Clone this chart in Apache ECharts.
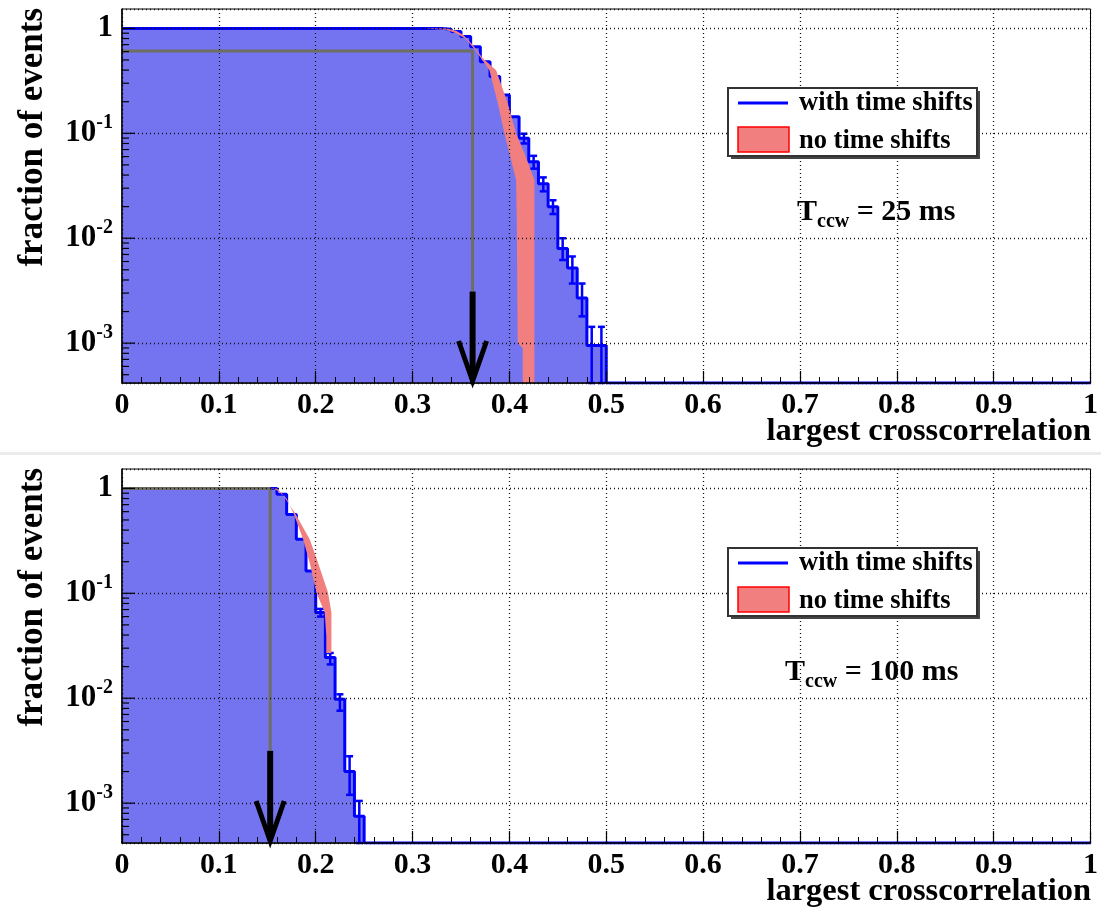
<!DOCTYPE html>
<html>
<head>
<meta charset="utf-8">
<script src="https://cdn.jsdelivr.net/npm/echarts@6/dist/echarts.min.js"></script>
<style>
  html, body { margin: 0; padding: 0; background: #ffffff; }
  #chart { width: 1101px; height: 909px; }
</style>
</head>
<body>
<div id="chart"></div>
<script>
// ---------- shared axis settings ----------
const xMin = 0, xMax = 1, xStep = 0.1;
const yMin = 4.17e-4, yMax = 1.53;            // log axis range (fraction of events)
const decadeTicks = [0.001, 0.01, 0.1, 1];

// ---------- panel 1: T_ccw = 25 ms ----------
// cumulative histogram "with time shifts": bin left edge -> fraction (0 = empty)
const topBlueEdges  = [0, 0.33, 0.34, 0.35, 0.36, 0.37, 0.38, 0.39, 0.40, 0.41, 0.42, 0.43, 0.44, 0.45, 0.46, 0.47, 0.48, 0.49, 0.50, 1.0];
const topBlueValues = [1, 0.98, 0.935, 0.835, 0.67, 0.48, 0.347, 0.232, 0.144, 0.0895, 0.0537, 0.033, 0.0200, 0.0080, 0.0052, 0.0027, 0.00095, 0.00095, 0, 0];
// statistical error bars of the tail bins (bin centre, lower, upper)
const topErrX  = [0.415, 0.425, 0.435, 0.445, 0.455, 0.465, 0.475, 0.485, 0.495];
const topErrLo = [0.080, 0.046, 0.028, 0.017, 0.0062, 0.0037, 0.0018, 0, 0];
const topErrHi = [0.099, 0.061, 0.038, 0.023, 0.0100, 0.0067, 0.0037, 0.00143, 0.00143];
// "no time shifts": error band (upper and lower edge)
const topRedUpX = [0.315, 0.335, 0.345, 0.352, 0.362, 0.3725, 0.3863, 0.3983, 0.4069, 0.4155, 0.4258, 0.4258];
const topRedUpY = [1.0, 0.995, 0.95, 0.87, 0.70, 0.52, 0.40, 0.193, 0.100, 0.0645, 0.0358, 0];
const topRedLoX = [0.315, 0.335, 0.345, 0.355, 0.365, 0.3794, 0.388, 0.3948, 0.400, 0.4069, 0.4076, 0.4086, 0.4137, 0.4137];
const topRedLoY = [0.99, 0.97, 0.90, 0.79, 0.62, 0.40, 0.193, 0.100, 0.0645, 0.0358, 0.015, 0.001, 0.0009, 0];
// cut marker: guide level, cut value, arrow start
const topCut = { level: 0.61, x: 0.362, arrowTop: 0.0031 };
const topLabel = '25 ms';

// ---------- panel 2: T_ccw = 100 ms ----------
const botBlueEdges  = [0, 0.16, 0.17, 0.18, 0.19, 0.20, 0.21, 0.22, 0.23, 0.24, 0.25, 1.0];
const botBlueValues = [1, 0.877, 0.565, 0.327, 0.163, 0.0655, 0.0244, 0.0098, 0.0020, 0.00075, 0, 0];
const botErrX  = [0.205, 0.215, 0.225, 0.235, 0.245];
const botErrLo = [0.060, 0.021, 0.0076, 0.0012, 0];
const botErrHi = [0.071, 0.027, 0.0109, 0.0028, 0.00105];
const botRedUpX = [0.155, 0.160, 0.1646, 0.1784, 0.1938, 0.2024, 0.2127, 0.2162, 0.2162];
const botRedUpY = [1.0, 0.99, 0.91, 0.587, 0.327, 0.196, 0.1016, 0.0655, 0.027];
const botRedLoX = [0.155, 0.160, 0.170, 0.178, 0.187, 0.1938, 0.2007, 0.2093, 0.211, 0.211];
const botRedLoY = [0.99, 0.96, 0.80, 0.55, 0.327, 0.196, 0.1016, 0.0655, 0.039, 0.027];
const botCut = { level: 1.0, x: 0.153, arrowTop: 0.00315 };
const botLabel = '100 ms';

// ---------- style ----------
const SERIF = '"Liberation Serif", "DejaVu Serif", serif';
const BLUE = '#0000ff';
const BLUE_FILL = '#7474f0';
const RED_FILL = '#f27f7f';
const GUIDE = '#6e6e62';

// empty bins sit on the lower edge of the log axis
const floorV = v => (v > yMin ? v : yMin);

const grids = [
  { left: 122, right: 8, top: 9, height: 374 },
  { left: 122, right: 8, top: 469, height: 374 }
];

function xAxisFor(i) {
  return {
    gridIndex: i, type: 'value', min: xMin, max: xMax, interval: xStep, z: 5,
    axisLine: { show: true, onZero: false, lineStyle: { color: '#000', width: 1.5 } },
    axisTick: { show: true, inside: true, length: 12, lineStyle: { color: '#000', width: 1.2 } },
    minorTick: { show: true, splitNumber: 5, length: 6, lineStyle: { color: '#000', width: 1 } },
    splitLine: { show: true, lineStyle: { color: '#111', type: [1, 3], width: 1.3 } },
    axisLabel: {
      margin: 7, fontFamily: SERIF, fontWeight: 'bold', fontSize: 30, color: '#000',
      formatter: v => String(Math.round(v * 10) / 10)
    }
  };
}

function yAxisFor(i) {
  return {
    gridIndex: i, type: 'log', logBase: 10, min: yMin, max: yMax, z: 5,
    axisLine: { show: true, onZero: false, lineStyle: { color: '#000', width: 1.5 } },
    axisTick: { show: false },
    splitLine: { show: true, lineStyle: { color: '#111', type: [1, 3], width: 1.3 } },
    axisLabel: {
      margin: 9, color: '#000',
      formatter: v => {
        const e = Math.log10(v);
        if (Math.abs(e - Math.round(e)) > 1e-6) return '';
        const k = Math.round(e);
        return k === 0 ? '{n|1}' : '{n|10}{s|' + k + '}';
      },
      rich: {
        n: { fontFamily: SERIF, fontWeight: 'bold', fontSize: 31, color: '#000' },
        s: { fontFamily: SERIF, fontWeight: 'bold', fontSize: 20, color: '#000', padding: [0, 0, 20, 0] }
      }
    }
  };
}

// minor log ticks 2..9 x 10^k and decade ticks, drawn inward from the y axis
const yMinorTicks = [];
for (let k = -4; k <= 0; k++) {
  for (let m = 2; m <= 9; m++) {
    const v = m * Math.pow(10, k);
    if (v > yMin && v < yMax) yMinorTicks.push(v);
  }
}

function panelSeries(i, d) {
  const blueData = d.edges.map((x, j) => [x, floorV(d.values[j])]);
  const errData = d.errX.map((x, j) => [x, floorV(d.errLo[j]), floorV(d.errHi[j])]);
  return [
    {
      name: 'with time shifts', type: 'line', xAxisIndex: i, yAxisIndex: i, z: 2,
      step: 'end', showSymbol: false, symbol: 'none', data: blueData,
      lineStyle: { color: BLUE, width: 3 },
      areaStyle: { color: BLUE_FILL, opacity: 1, origin: 'start' },
      itemStyle: { color: BLUE }, silent: true
    },
    {
      name: 'errors', type: 'custom', xAxisIndex: i, yAxisIndex: i, z: 3, silent: true,
      data: errData, encode: { x: 0, y: [1, 2] },
      renderItem: (params, api) => {
        const x = api.value(0);
        const lo = api.coord([x, api.value(1)]);
        const hi = api.coord([x, api.value(2)]);
        const cap = 3.5;
        const st = { stroke: BLUE, lineWidth: 2.5 };
        return {
          type: 'group', children: [
            { type: 'line', shape: { x1: lo[0], y1: lo[1], x2: hi[0], y2: hi[1] }, style: st },
            { type: 'line', shape: { x1: hi[0] - cap, y1: hi[1], x2: hi[0] + cap, y2: hi[1] }, style: st },
            { type: 'line', shape: { x1: lo[0] - cap, y1: lo[1], x2: lo[0] + cap, y2: lo[1] }, style: st }
          ]
        };
      }
    },
    {
      name: 'no time shifts', type: 'custom', xAxisIndex: i, yAxisIndex: i, z: 3, silent: true,
      data: [[d.redUpX[0], floorV(d.redUpY[0])]],
      renderItem: (params, api) => {
        const pts = [];
        for (let j = 0; j < d.redUpX.length; j++) pts.push(api.coord([d.redUpX[j], floorV(d.redUpY[j])]));
        for (let j = d.redLoX.length - 1; j >= 0; j--) pts.push(api.coord([d.redLoX[j], floorV(d.redLoY[j])]));
        return { type: 'polygon', shape: { points: pts }, style: { fill: RED_FILL } };
      }
    },
    {
      name: 'cut guide', type: 'line', xAxisIndex: i, yAxisIndex: i, z: 4, silent: true,
      showSymbol: false, symbol: 'none',
      data: [[0, d.cut.level], [d.cut.x, d.cut.level], [d.cut.x, d.cut.arrowTop]],
      lineStyle: { color: GUIDE, width: 3 }
    },
    {
      name: 'cut arrow', type: 'custom', xAxisIndex: i, yAxisIndex: i, z: 7, silent: true,
      data: [[d.cut.x, d.cut.arrowTop]],
      renderItem: (params, api) => {
        const top = api.coord([api.value(0), api.value(1)]);
        const tip = api.coord([api.value(0), yMin]);
        tip[1] -= 2;
        return {
          type: 'group', children: [
            { type: 'line', shape: { x1: top[0], y1: top[1], x2: tip[0], y2: tip[1] - 4 },
              style: { stroke: '#000', lineWidth: 6 } },
            { type: 'polyline', shape: { points: [[tip[0] - 14, tip[1] - 40], [tip[0], tip[1]], [tip[0] + 14, tip[1] - 40]] },
              style: { stroke: '#000', lineWidth: 5, fill: null, lineJoin: 'miter' } }
          ]
        };
      }
    },
    {
      name: 'y ticks', type: 'custom', xAxisIndex: i, yAxisIndex: i, z: 8, silent: true,
      data: yMinorTicks.map(v => [xMin, v, 0]).concat(decadeTicks.map(v => [xMin, v, 1])),
      renderItem: (params, api) => {
        const p = api.coord([api.value(0), api.value(1)]);
        const len = api.value(2) ? 13 : 7;
        return { type: 'line', shape: { x1: p[0], y1: p[1], x2: p[0] + len, y2: p[1] },
                 style: { stroke: '#000', lineWidth: 1.2 } };
      }
    }
  ];
}

const topData = {
  edges: topBlueEdges, values: topBlueValues,
  errX: topErrX, errLo: topErrLo, errHi: topErrHi,
  redUpX: topRedUpX, redUpY: topRedUpY, redLoX: topRedLoX, redLoY: topRedLoY,
  cut: topCut
};
const botData = {
  edges: botBlueEdges, values: botBlueValues,
  errX: botErrX, errLo: botErrLo, errHi: botErrHi,
  redUpX: botRedUpX, redUpY: botRedUpY, redLoX: botRedLoX, redLoY: botRedLoY,
  cut: botCut
};

// legend box, T_ccw annotation and axis titles of one panel
function panelGraphics(offY, label, tX) {
  const txt = (x, y, s, size, align, rot) => ({
    type: 'text', x: x, y: y, rotation: rot || 0, z: 20,
    style: { text: s, fontFamily: SERIF, fontWeight: 'bold', fontSize: size, fill: '#000',
             align: align || 'left', verticalAlign: 'middle' }
  });
  return [
    { type: 'rect', shape: { x: 731, y: offY + 91, width: 249, height: 68 }, style: { fill: '#444' }, z: 18 },
    { type: 'rect', shape: { x: 728, y: offY + 88, width: 249, height: 68 },
      style: { fill: '#fff', stroke: '#333', lineWidth: 2 }, z: 19 },
    { type: 'line', shape: { x1: 738, y1: offY + 103, x2: 788, y2: offY + 103 },
      style: { stroke: BLUE, lineWidth: 3 }, z: 20 },
    { type: 'rect', shape: { x: 738, y: offY + 127, width: 51, height: 25 },
      style: { fill: RED_FILL, stroke: '#ff0000', lineWidth: 1.5 }, z: 20 },
    txt(799, offY + 103, 'with time shifts', 26.5),
    txt(799, offY + 141, 'no time shifts', 26.5),
    {
      type: 'text', x: tX, y: offY + 212, z: 20,
      style: {
        text: '{t|T}{s|ccw}{t| = ' + label + '}',
        verticalAlign: 'middle', align: 'left',
        rich: {
          t: { fontFamily: SERIF, fontWeight: 'bold', fontSize: 30, fill: '#000' },
          s: { fontFamily: SERIF, fontWeight: 'bold', fontSize: 20, fill: '#000', padding: [20, 0, 0, 0] }
        }
      }
    },
    txt(1091, offY + 432, 'largest crosscorrelation', 32.5, 'right'),
    txt(33, offY + 8, 'fraction of events', 35, 'right', Math.PI / 2)
  ];
}

const chart = echarts.init(document.getElementById('chart'), null, { renderer: 'canvas' });
chart.setOption({
  backgroundColor: '#ffffff',
  animation: false,
  grid: grids.map(g => Object.assign({ show: true, borderColor: '#000', borderWidth: 1, backgroundColor: '#fff' }, g)),
  xAxis: [xAxisFor(0), xAxisFor(1)],
  yAxis: [yAxisFor(0), yAxisFor(1)],
  series: panelSeries(0, topData).concat(panelSeries(1, botData)),
  graphic: [
    { type: 'rect', shape: { x: 0, y: 452, width: 1101, height: 3 }, style: { fill: '#ebebeb' }, z: 1 }
  ].concat(panelGraphics(0, topLabel, 797)).concat(panelGraphics(460, botLabel, 785))
});
</script>
</body>
</html>
